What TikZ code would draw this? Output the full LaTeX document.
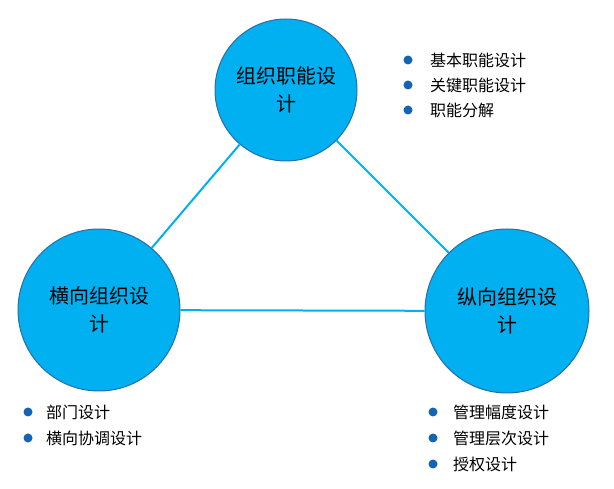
\documentclass[tikz,border=0pt]{standalone}
\usepackage{fontspec}
\setmainfont{Noto Sans CJK SC}
\begin{document}
\begin{tikzpicture}[x=1pt,y=-1pt,
  circ/.style={circle,fill=cyanfill,draw=edgeblue,line width=1pt,inner sep=0pt,align=center,font=\fontsize{20}{28}\selectfont},
  link/.style={draw=cyanfill,line width=2pt},
  item/.style={anchor=west,font=\fontsize{16}{18}\selectfont,inner sep=0pt},
  dot/.style={circle,fill=dotblue,inner sep=0pt,minimum size=9pt}]
\definecolor{cyanfill}{RGB}{0,176,240}
\definecolor{edgeblue}{RGB}{40,110,170}
\definecolor{dotblue}{RGB}{20,100,180}
\useasboundingbox (0,0) rectangle (614,489);
\node[circ,minimum size=142pt] (top) at (286,90) {组织职能设\\计};
\node[circ,minimum size=162pt] (left) at (99,310) {横向组织设\\计};
\node[circ,minimum size=164pt] (right) at (507,311) {纵向组织设\\计};
\draw[link] (top) -- (left);
\draw[link] (top) -- (right);
\draw[link] (left) -- (right);
\foreach \t [count=\i] in {基本职能设计,关键职能设计,职能分解}{
  \node[dot] (a\i) at (408,{35+25*\i}) {};
  \node[item] (ta\i) at (430,{35+25*\i}) {\t};}
\foreach \t [count=\i] in {部门设计,横向协调设计}{
  \node[dot] (b\i) at (28,{386+26*\i}) {};
  \node[item] (tb\i) at (46,{386+26*\i}) {\t};}
\foreach \t [count=\i] in {管理幅度设计,管理层次设计,授权设计}{
  \node[dot] (c\i) at (433,{386+26*\i}) {};
  \node[item] (tc\i) at (453,{386+26*\i}) {\t};}
\end{tikzpicture}
\end{document}
